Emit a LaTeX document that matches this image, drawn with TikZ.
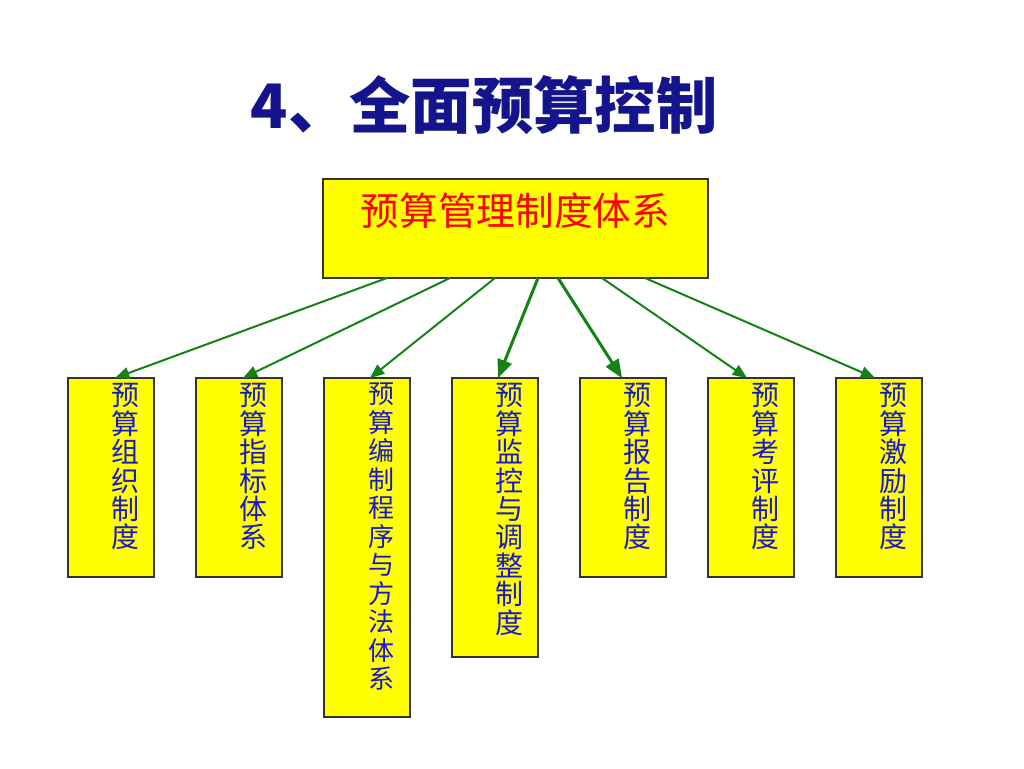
\documentclass[tikz,border=0pt]{standalone}
\usepackage{fontspec}
\newfontfamily\cjk{Noto Sans CJK SC}
\usepackage{xcolor}
\usetikzlibrary{positioning, arrows}
\usetikzlibrary{shapes}
\definecolor{titleblue}{RGB}{20,20,140}
\definecolor{boxyellow}{RGB}{255,255,0}
\definecolor{labelblue}{RGB}{25,25,200}
\definecolor{arrowgreen}{RGB}{20,130,20}
\tikzset{yellow box/.style={draw=black!80, fill=boxyellow, line width=0.8pt, minimum width=64.5pt, inner sep=0pt, outer sep=0pt}}
\tikzset{vertical label/.style={font=\cjk\fontsize{21}{21.3}\selectfont, text=labelblue, align=center, anchor=north, inner sep=0pt}}
\tikzset{link/.style={draw=arrowgreen, line width=1.5pt, -triangle 45}}

\begin{document}
\begin{tikzpicture}[x=0.75pt, y=-0.75pt]
			\useasboundingbox (0,0) rectangle (1024,768);
			\node[font=\cjk\bfseries\fontsize{46}{46}\selectfont, text=titleblue] (title) at (484,105) {4、全面预算控制};
			\node[yellow box, minimum width=288.75pt, text height=34.5pt, text depth=39.75pt, font=\cjk\fontsize{29}{29}\selectfont, text=red] (sys) at (515.5,228.5) {预算管理制度体系};
			
			\node[yellow box, minimum height=149.25pt, anchor=north west] (b1) at (68,378) {};
			\node[yellow box, minimum height=149.25pt, anchor=north west] (b2) at ([xshift=31.5pt]b1.north east) {};
			\node[yellow box, minimum height=254.25pt, anchor=north west] (b3) at ([xshift=31.5pt]b2.north east) {};
			\node[yellow box, minimum height=209.25pt, anchor=north west] (b4) at ([xshift=31.5pt]b3.north east) {};
			\node[yellow box, minimum height=149.25pt, anchor=north west] (b5) at ([xshift=31.5pt]b4.north east) {};
			\node[yellow box, minimum height=149.25pt, anchor=north west] (b6) at ([xshift=31.5pt]b5.north east) {};
			\node[yellow box, minimum height=149.25pt, anchor=north west] (b7) at ([xshift=31.5pt]b6.north east) {};
			
			\node[vertical label] (t1) at ([xshift=10.5pt, yshift=-4pt]b1.north) {预\\算\\组\\织\\制\\度};
			\node[vertical label] (t2) at ([xshift=10.5pt, yshift=-4pt]b2.north) {预\\算\\指\\标\\体\\系};
			\node[vertical label, font=\cjk\fontsize{19.5}{21.4}\selectfont] (t3) at ([xshift=10.5pt, yshift=-3.5pt]b3.north) {预\\算\\编\\制\\程\\序\\与\\方\\法\\体\\系};
			\node[vertical label] (t4) at ([xshift=10.5pt, yshift=-4pt]b4.north) {预\\算\\监\\控\\与\\调\\整\\制\\度};
			\node[vertical label] (t5) at ([xshift=10.5pt, yshift=-4pt]b5.north) {预\\算\\报\\告\\制\\度};
			\node[vertical label] (t6) at ([xshift=10.5pt, yshift=-4pt]b6.north) {预\\算\\考\\评\\制\\度};
			\node[vertical label] (t7) at ([xshift=10.5pt, yshift=-4pt]b7.north) {预\\算\\激\\励\\制\\度};
			
			\draw[link] ([xshift=-96.375pt]sys.south) -- ([xshift=3pt]b1.north);
			\draw[link] ([xshift=-49.125pt]sys.south) -- ([xshift=3pt]b2.north);
			\draw[link] ([xshift=-15.375pt]sys.south) -- ([xshift=2.25pt]b3.north);
			\draw[link, line width=2.25pt] ([xshift=16.875pt]sys.south) -- ([xshift=2.25pt]b4.north);
			\draw[link, line width=2.25pt] ([xshift=31.875pt]sys.south) -- ([xshift=-0.75pt]b5.north);
			\draw[link] ([xshift=64.875pt]sys.south) -- ([xshift=-3pt]b6.north);
			\draw[link] ([xshift=97.125pt]sys.south) -- ([xshift=-3pt]b7.north);
		\end{tikzpicture}
\end{document}
